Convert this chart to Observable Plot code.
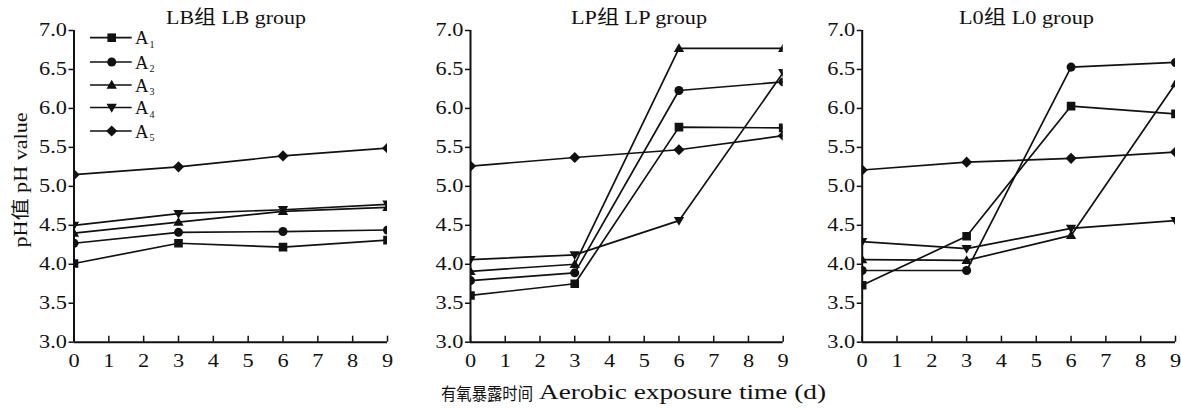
<!DOCTYPE html>
<html><head><meta charset="utf-8">
<script src="https://cdn.jsdelivr.net/npm/d3@7"></script>
<script src="https://cdn.jsdelivr.net/npm/@observablehq/plot@0.6"></script>
<style>
body{margin:0;background:#fff;}
#wrap{position:relative;width:1181px;height:408px;overflow:hidden;background:#fff;}
#wrap svg{position:absolute;top:0;}
</style></head><body><div id="wrap"></div>
<script>
// ---- data ----
const days = [0, 3, 6, 9];
const seriesNames = ["A1", "A2", "A3", "A4", "A5"];
const groupTitles = ["LB组 LB group", "LP组 LP group", "L0组 L0 group"];
const xTicks = [0, 1, 2, 3, 4, 5, 6, 7, 8, 9];
const yTicks = [3.0, 3.5, 4.0, 4.5, 5.0, 5.5, 6.0, 6.5, 7.0];
const yLabel = "pH值 pH value";
const xLabelZh = "有氧暴露时间";
const xLabelEn = "Aerobic exposure time (d)";

const lbA1 = [4.01, 4.27, 4.22, 4.31];
const lbA2 = [4.27, 4.41, 4.42, 4.44];
const lbA3 = [4.40, 4.54, 4.68, 4.73];
const lbA4 = [4.50, 4.65, 4.70, 4.77];
const lbA5 = [5.15, 5.25, 5.39, 5.49];

const lpA1 = [3.60, 3.75, 5.76, 5.75];
const lpA2 = [3.79, 3.89, 6.23, 6.34];
const lpA3 = [3.91, 4.00, 6.77, 6.77];
const lpA4 = [4.06, 4.12, 4.56, 6.46];
const lpA5 = [5.26, 5.37, 5.47, 5.65];

const l0A1 = [3.73, 4.36, 6.03, 5.93];
const l0A2 = [3.92, 3.92, 6.53, 6.59];
const l0A3 = [4.06, 4.05, 4.37, 6.32];
const l0A4 = [4.29, 4.20, 4.46, 4.56];
const l0A5 = [5.21, 5.31, 5.36, 5.44];

// ---- symbols ----
const rad = s => Math.sqrt(s / Math.PI);
const symbols = {
  A1: {draw(c, s) { const r = rad(s); c.rect(-r, -r, 2 * r, 2 * r); }},
  A2: {draw(c, s) { const r = rad(s) * 1.05; c.moveTo(r, 0); c.arc(0, 0, r, 0, 2 * Math.PI); }},
  A3: {draw(c, s) { const r = rad(s); c.moveTo(0, -r * 1.2); c.lineTo(r * 1.2, r * 0.85); c.lineTo(-r * 1.2, r * 0.85); c.closePath(); }},
  A4: {draw(c, s) { const r = rad(s); c.moveTo(0, r * 1.2); c.lineTo(r * 1.2, -r * 0.85); c.lineTo(-r * 1.2, -r * 0.85); c.closePath(); }},
  A5: {draw(c, s) { const r = rad(s) * 1.3; c.moveTo(0, -r); c.lineTo(r, 0); c.lineTo(0, r); c.lineTo(-r, 0); c.closePath(); }}
};

const FONT = "'Liberation Serif','Times New Roman','Noto Sans CJK SC',serif";
const wrap = document.getElementById("wrap");
const H = 380, MT = 30, MB = 38.3;

const panels = [
  {left: 0, width: 400, ml: 73.5, mr: 13, series: [lbA1, lbA2, lbA3, lbA4, lbA5]},
  {left: 400, width: 395, ml: 70, mr: 12.3, series: [lpA1, lpA2, lpA3, lpA4, lpA5]},
  {left: 790, width: 391, ml: 71.7, mr: 6, series: [l0A1, l0A2, l0A3, l0A4, l0A5]}
];

const plotSvgs = [];
panels.forEach(p => {
  const marks = [];
  p.series.forEach((vals, i) => {
    const rows = days.map((d, j) => ({day: d, ph: vals[j]}));
    marks.push(Plot.line(rows, {x: "day", y: "ph", stroke: "#111", strokeWidth: 1.7, clip: true}));
    marks.push(Plot.dot(rows, {x: "day", y: "ph", symbol: symbols[seriesNames[i]], r: 4.3, fill: "#111", stroke: "none", clip: true}));
  });
  marks.push(Plot.ruleX([0], {stroke: "#111", strokeWidth: 2}));
  marks.push(Plot.ruleY([3], {stroke: "#111", strokeWidth: 2}));
  marks.push(Plot.tickX(xTicks, {x: d => d, insetTop: (H - MT - MB) - 6, stroke: "#111", strokeWidth: 1.5}));
  marks.push(Plot.axisY(yTicks, {label: null, tickFormat: d => d.toFixed(1), tickSize: 5, tickPadding: 2, strokeWidth: 1.5}));
  marks.push(Plot.axisX(xTicks, {label: null, tickSize: 0, tickPadding: 12}));
  const svg = Plot.plot({
    width: p.width, height: H,
    marginTop: MT, marginBottom: MB, marginLeft: p.ml, marginRight: p.mr,
    x: {domain: [0, 9], axis: null, label: null},
    y: {domain: [3, 7], axis: null, label: null},
    style: {fontFamily: FONT, fontSize: "18px", color: "#111", background: "transparent", overflow: "visible"},
    marks
  });
  svg.style.left = p.left + "px";
  wrap.appendChild(svg);
  plotSvgs.push(svg);
});

// stretch tick labels horizontally to match the reference
plotSvgs.forEach(svg => {
  svg.querySelectorAll("text").forEach(t => {
    const len = t.getComputedTextLength();
    if (len > 0) { t.setAttribute("textLength", len * 1.24); t.setAttribute("lengthAdjust", "spacingAndGlyphs"); }
  });
});

// ---- overlay: titles, axis labels, legend ----
const ov = d3.select(wrap).append("svg")
  .attr("width", 1181).attr("height", 408)
  .style("left", "0px").style("pointer-events", "none")
  .style("font-family", FONT).attr("fill", "#111");

const titleCenters = [236, 639, 1026.5];
const titleLens = [140, 136, 135];
groupTitles.forEach((t, i) => {
  ov.append("text").attr("x", titleCenters[i]).attr("y", 24).attr("text-anchor", "middle")
    .attr("font-size", 19).attr("textLength", titleLens[i]).attr("lengthAdjust", "spacingAndGlyphs").text(t);
});

ov.append("text").attr("transform", "translate(27,180) rotate(-90)").attr("text-anchor", "middle")
  .attr("font-size", 18).attr("textLength", 135).attr("lengthAdjust", "spacingAndGlyphs").text(yLabel);

ov.append("text").attr("x", 441).attr("y", 400).attr("font-size", 17)
  .attr("textLength", 92).attr("lengthAdjust", "spacingAndGlyphs").text(xLabelZh);
ov.append("text").attr("x", 539).attr("y", 399).attr("font-size", 20)
  .attr("textLength", 287).attr("lengthAdjust", "spacingAndGlyphs").text(xLabelEn);

const legendY = [37.7, 62, 85, 107.5, 131];
seriesNames.forEach((s, i) => {
  const y = legendY[i];
  const g = ov.append("g");
  g.append("line").attr("x1", 90).attr("x2", 131.7).attr("y1", y).attr("y2", y).attr("stroke", "#111").attr("stroke-width", 1.7);
  g.append("path").attr("transform", `translate(111.7,${y})`)
    .attr("d", d3.symbol().type(symbols[s]).size(Math.PI * 4.3 * 4.3)()).attr("fill", "#111");
  g.append("text").attr("x", 135).attr("y", y + 6.5).attr("font-size", 18)
    .attr("textLength", 13.5).attr("lengthAdjust", "spacingAndGlyphs").text("A");
  g.append("text").attr("x", 149.5).attr("y", y + 10).attr("font-size", 10).text(s.slice(1));
});
</script>
</body></html>
